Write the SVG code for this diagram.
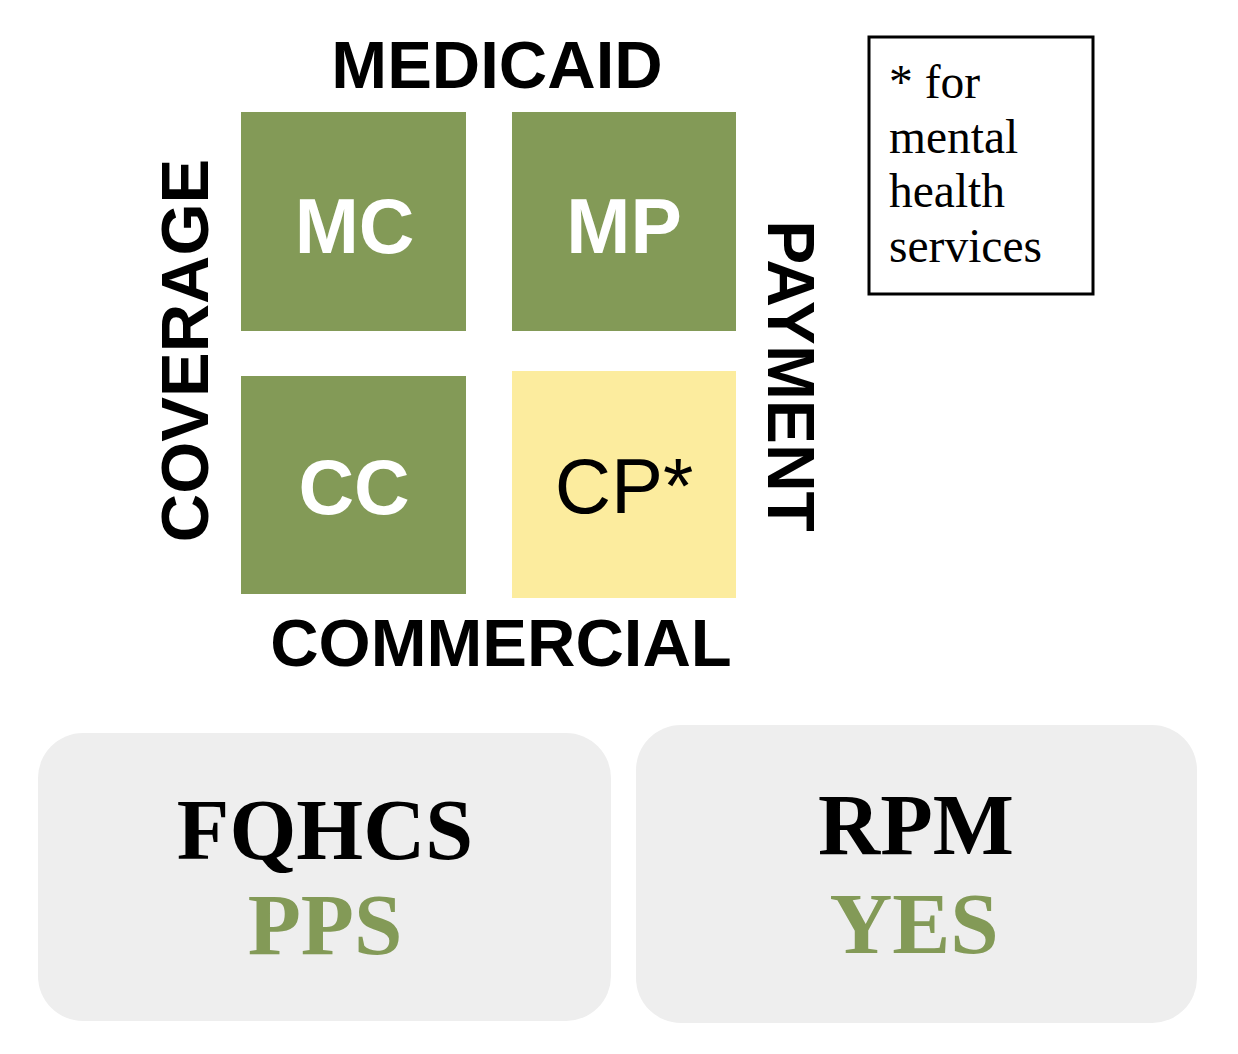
<svg xmlns="http://www.w3.org/2000/svg" width="1238" height="1054" viewBox="0 0 1238 1054">
  <style>
    .sans { font-family: "Liberation Sans", Arial, sans-serif; }
    .serif { font-family: "Liberation Serif", "Times New Roman", serif; }
    .axis { font-family: "Liberation Sans", Arial, sans-serif; font-weight: bold; font-size: 67px; fill: #000; text-anchor: middle; }
    .sq { fill: #839A57; }
    .sqy { fill: #FCEC9E; }
    .sqlabel { font-family: "Liberation Sans", Arial, sans-serif; font-weight: bold; font-size: 77px; fill: #fff; text-anchor: middle; }
    .card { fill: #EEEEEE; }
    .cardtitle { font-family: "Liberation Serif", "Times New Roman", serif; font-weight: bold; font-size: 86px; fill: #000; text-anchor: middle; }
    .cardval { font-family: "Liberation Serif", "Times New Roman", serif; font-weight: bold; font-size: 87px; fill: #839A57; text-anchor: middle; }
    .note { font-family: "Liberation Serif", "Times New Roman", serif; font-size: 47.5px; fill: #000; }
  </style>
  <rect x="0" y="0" width="1238" height="1054" fill="#ffffff"/>

  <g id="axis-labels">
    <text class="axis" x="497" y="87.5">MEDICAID</text>
    <text class="axis" x="501" y="666">COMMERCIAL</text>
    <text class="axis" transform="translate(208,350.5) rotate(-90)">COVERAGE</text>
    <text class="axis" style="font-size:66px" transform="translate(768,376) rotate(90)">PAYMENT</text>
  </g>

  <g id="node-MC">
    <rect class="sq" x="241" y="112" width="225" height="219"/>
    <text class="sqlabel" x="354.5" y="252.5">MC</text>
  </g>
  <g id="node-MP">
    <rect class="sq" x="512" y="112" width="224" height="219"/>
    <text class="sqlabel" x="624" y="252.5">MP</text>
  </g>
  <g id="node-CC">
    <rect class="sq" x="241" y="376" width="225" height="218"/>
    <text class="sqlabel" x="354" y="514">CC</text>
  </g>
  <g id="node-CP">
    <rect class="sqy" x="512" y="371" width="224" height="227"/>
    <text class="sans" x="624" y="513" font-size="78" fill="#000" text-anchor="middle">CP*</text>
  </g>

  <g id="node-note">
    <rect x="869" y="37" width="224" height="257" fill="#fff" stroke="#000" stroke-width="3"/>
    <text class="note" x="889" y="98">* for</text>
    <text class="note" x="889" y="152.5">mental</text>
    <text class="note" x="889" y="206.5">health</text>
    <text class="note" x="889" y="261.5">services</text>
  </g>

  <g id="node-FQHCS">
    <rect class="card" x="38" y="733" width="573" height="288" rx="45" ry="45"/>
    <text class="cardtitle" x="325" y="859">FQHCS</text>
    <text class="cardval" x="325" y="954">PPS</text>
  </g>
  <g id="node-RPM">
    <rect class="card" x="636" y="725" width="561" height="298" rx="45" ry="45"/>
    <text class="cardtitle" x="916" y="854">RPM</text>
    <text class="cardval" x="914" y="952.5">YES</text>
  </g>

  <g id="connectors"></g>
</svg>
